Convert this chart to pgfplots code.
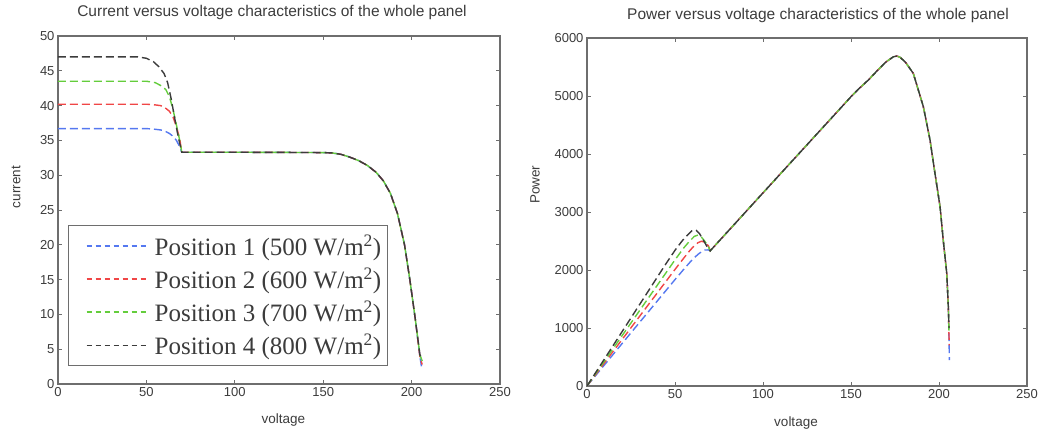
\documentclass[border=0pt]{standalone}
\usepackage{pgfplots}
\pgfplotsset{compat=1.18}
\usepackage{fontspec}
\newfontfamily\arialf{Liberation Sans}
\newfontfamily\timesf{Liberation Serif}
\definecolor{cb}{RGB}{85,120,240}
\definecolor{cr}{RGB}{240,70,70}
\definecolor{cg}{RGB}{100,205,60}
\definecolor{ck}{RGB}{60,60,60}
\definecolor{axg}{RGB}{110,110,110}
\definecolor{txg}{RGB}{60,60,60}
\begin{document}
\begin{tikzpicture}[x=1pt,y=1pt]
\path[use as bounding box] (-58,-50) rectangle (980,384);
\pgfplotsset{
  mystyle/.style={
    scale only axis, width=442pt, height=348pt,
    axis line style={axg, line width=1.2pt},
    tick style={axg, line width=0.8pt},
    tick align=inside, major tick length=4pt,
    xtick pos=both, ytick pos=both,
    xmin=0, xmax=250, xtick={0,50,...,250},
    ticklabel style={font=\arialf\fontsize{13}{13}\selectfont, text=txg},
    /pgf/number format/assume math mode=true,
    /pgf/number format/1000 sep={},
    label style={font=\arialf\fontsize{13.5}{13.5}\selectfont, text=txg},
    every axis plot/.append style={line width=1.4pt, dash pattern=on 8pt off 4pt},
  }
}
% ---------------- Current plot ----------------
\begin{axis}[mystyle, at={(0,0)}, anchor=south west,
  ymin=0, ymax=50, ytick={0,5,...,50},
  xlabel={voltage}, ylabel={current},
  xlabel style={at={(axis description cs:0.51,-0.103)}, anchor=center},
  ylabel style={at={(axis description cs:-0.095,0.566)}, anchor=center},
  legend style={at={(0.023,0.052)}, anchor=south west, draw=axg, line width=1pt,
    font=\timesf\fontsize{25}{25}\selectfont, text=txg, inner xsep=4pt, inner ysep=7pt,
    row sep=7pt, legend cell align=left},
  legend image code/.code={\path[draw=none] (0pt,-1pt) rectangle (80pt,1pt);\draw[#1, line width=1.6pt, dash pattern=on 5pt off 4pt] (14pt,0pt) -- (74pt,0pt);},
]
\addplot[cb] coordinates {(0,36.7)(50,36.7)(55,36.6)(58,36.5)(60,36.4)(63,36.0)(65,35.6)(67,35.0)(69,34.0)(70,33.3)
 (100,33.3)(150,33.25)(155,33.2)(160,33.0)(165,32.6)(170,32.1)(175,31.4)(180,30.4)(184,29.2)(188,27.4)(192,24.5)(196,20.0)(199,15.0)(202,9.5)(204.7,3.9)(205.8,2.2)};
\addlegendentry{Position 1 (500 W/m\textsuperscript{2})}
\addplot[cr] coordinates {(0,40.2)(50,40.2)(55,40.1)(58,40.0)(60,39.8)(63,39.2)(65,38.4)(67,37.0)(69,35.0)(70,33.3)
 (100,33.3)(150,33.25)(155,33.2)(160,33.0)(165,32.6)(170,32.1)(175,31.4)(180,30.4)(184,29.2)(188,27.4)(192,24.5)(196,20.0)(199,15.0)(202,9.5)(204.7,3.9)(206,2.8)};
\addlegendentry{Position 2 (600 W/m\textsuperscript{2})}
\addplot[cg] coordinates {(0,43.5)(50,43.5)(55,43.3)(58,42.9)(61,42.3)(63,41.3)(65,39.5)(67,37.2)(69,34.8)(70,33.3)
 (100,33.3)(150,33.25)(155,33.2)(160,33.0)(165,32.6)(170,32.1)(175,31.4)(180,30.4)(184,29.2)(188,27.4)(192,24.5)(196,20.0)(199,15.0)(202,9.5)(204.7,4.2)(206,3.3)};
\addlegendentry{Position 3 (700 W/m\textsuperscript{2})}
\addplot[ck] coordinates {(0,47.0)(45,47.0)(50,46.8)(54,46.3)(57,45.6)(60,44.6)(62,43.3)(64,41.0)(66,38.2)(68,35.5)(70,33.3)
 (100,33.3)(150,33.25)(155,33.2)(160,33.0)(165,32.6)(170,32.1)(175,31.4)(180,30.4)(184,29.2)(188,27.4)(192,24.5)(196,20.0)(199,15.0)(202,9.5)(204.7,4.2)(206,3.5)};
\addlegendentry{Position 4 (800 W/m\textsuperscript{2})}
\end{axis}
% ---------------- Power plot ----------------
\begin{axis}[mystyle, at={(529pt,-2pt)}, anchor=south west, width=440pt,
  ymin=0, ymax=6000, ytick={0,1000,...,6000},
  xlabel={voltage}, ylabel={Power},
  xlabel style={at={(axis description cs:0.475,-0.106)}, anchor=center},
  ylabel style={at={(axis description cs:-0.118,0.578)}, anchor=center},
]
\addplot[cb] coordinates {(0,0)(25,918)(50,1835)(55,2013)(58,2117)(60,2184)(63,2268)(65,2314)(67,2345)(69,2346)(70,2331)
 (100,3330)(150,4988)(155,5140)(160,5280)(165,5440)(170,5590)(174,5675)(176,5690)(178,5665)(181,5580)(185.4,5390)(191.1,4816)(194.9,4241)(197.7,3667)(200.6,3091)(202.4,2517)(204.4,1943)(205.3,1367)(205.7,793)(205.9,448)};
\addplot[cr] coordinates {(0,0)(25,1005)(50,2010)(55,2206)(58,2320)(60,2388)(63,2470)(65,2496)(67,2479)(69,2415)(70,2331)
 (100,3330)(150,4988)(155,5140)(160,5280)(165,5440)(170,5590)(174,5675)(176,5690)(178,5665)(181,5580)(185.4,5390)(191.1,4816)(194.9,4241)(197.7,3667)(200.6,3091)(202.4,2517)(204.4,1943)(205.3,1367)(205.8,700)};
\addplot[cg] coordinates {(0,0)(25,1088)(50,2175)(55,2382)(58,2488)(61,2580)(63,2602)(65,2568)(67,2492)(69,2401)(70,2331)
 (100,3330)(150,4988)(155,5140)(160,5280)(165,5440)(170,5590)(174,5675)(176,5690)(178,5665)(181,5580)(185.4,5390)(191.1,4816)(194.9,4241)(197.7,3667)(200.6,3091)(202.4,2517)(204.4,1943)(205.3,1367)(205.7,900)};
\addplot[ck] coordinates {(0,0)(25,1175)(45,2115)(50,2340)(54,2500)(57,2600)(60,2688)(62,2685)(64,2624)(66,2521)(68,2414)(70,2331)
 (100,3330)(150,4988)(155,5140)(160,5280)(165,5440)(170,5590)(174,5675)(176,5690)(178,5665)(181,5580)(185.4,5390)(191.1,4816)(194.9,4241)(197.7,3667)(200.6,3091)(202.4,2517)(204.4,1943)(205.3,1367)(205.7,1000)};
\end{axis}
\node[font=\arialf\fontsize{15.5}{15.5}\selectfont, text=txg, anchor=center] at (214,372) {Current versus voltage characteristics of the whole panel};
\node[font=\arialf\fontsize{15.5}{15.5}\selectfont, text=txg, anchor=center] at (760,369) {Power versus voltage characteristics of the whole panel};
\end{tikzpicture}
\end{document}
